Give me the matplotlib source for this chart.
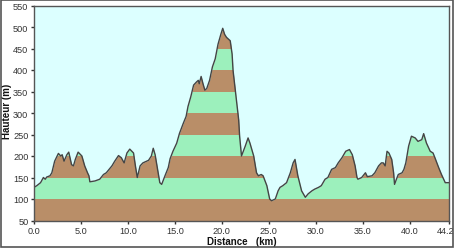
import matplotlib
matplotlib.use("Agg")
import matplotlib.pyplot as plt
from matplotlib.patches import Rectangle
from matplotlib.transforms import ScaledTranslation

distance_km = [0.0, 0.3, 0.7, 1.0, 1.2, 1.35, 1.7, 1.9, 2.2, 2.6, 2.85, 3.0, 3.2, 3.5, 3.7,
               4.0, 4.2, 4.4, 4.7, 5.1, 5.4, 5.7, 5.85, 5.95, 6.5, 7.0, 7.4, 7.7, 8.3, 8.6,
               9.0, 9.3, 9.6, 9.9, 10.2, 10.6, 10.8, 11.0, 11.3, 11.6, 12.2, 12.5, 12.7, 12.9,
               13.1, 13.4, 13.6, 13.95, 14.3, 14.5, 14.8, 15.2, 15.5, 15.9, 16.2, 16.4, 16.7,
               17.0, 17.3, 17.5, 17.6, 17.8, 18.0, 18.2, 18.4, 18.7, 19.0, 19.3, 19.6, 19.9,
               20.1, 20.3, 20.5, 20.9, 21.1, 21.2, 21.4, 21.6, 21.8, 21.9, 22.1, 22.5, 22.8,
               23.0, 23.4, 23.7, 23.9, 24.2, 24.4, 24.8, 25.1, 25.3, 25.7, 26.0, 26.2, 26.5,
               26.9, 27.3, 27.6, 27.8, 28.1, 28.5, 28.9, 29.2, 29.6, 29.9, 30.3, 30.6, 31.0,
               31.3, 31.7, 32.1, 32.4, 32.8, 33.2, 33.6, 33.9, 34.2, 34.4, 34.5, 34.9, 35.3,
               35.5, 36.0, 36.3, 36.7, 37.0, 37.2, 37.4, 37.6, 37.8, 38.1, 38.3, 38.4, 38.6,
               38.8, 39.2, 39.4, 39.6, 39.9, 40.2, 40.6, 40.9, 41.3, 41.5, 41.8, 42.2, 42.5,
               42.7, 43.1, 43.4, 43.8, 44.2]
altitude_m = [127, 131, 138, 150, 146, 151, 154, 161, 188, 206, 200, 203, 188, 203, 209,
              180, 177, 192, 209, 200, 177, 161, 154, 140, 142, 146, 157, 161, 177, 188,
              201, 196, 184, 207, 216, 207, 177, 150, 177, 184, 190, 200, 218, 203,
              177, 138, 134, 154, 173, 194, 211, 230, 253, 276, 292, 315, 338,
              365, 372, 376, 368, 385, 368, 353, 357, 376, 407, 426, 460, 483,
              497, 483, 476, 468, 437, 399, 361, 322, 284, 246, 200, 223, 242,
              230, 200, 161, 154, 157, 154, 131, 100, 96, 100, 119, 127, 131,
              138, 161, 184, 192, 154, 119, 104, 112, 119, 123, 127, 131, 146,
              150, 169, 173, 184, 196, 211, 215, 203, 177, 150, 146, 150, 161,
              152, 154, 161, 177, 184, 184, 177, 211, 207, 192, 161, 134, 146,
              157, 161, 169, 184, 223, 246, 242, 234, 238, 252, 230, 211, 207,
              196, 173, 157, 138, 138]

x_ticks = [0, 5, 10, 15, 20, 25, 30, 35, 40, 44.2]
x_tick_labels = ["0.0", "5.0", "10.0", "15.0", "20.0", "25.0", "30.0", "35.0", "40.0", "44.2"]
y_ticks = [50, 100, 150, 200, 250, 300, 350, 400, 450, 500, 550]
band_edges = [50, 100, 150, 200, 250, 300, 350, 400, 450, 500, 550]

BG = "#dcffff"
BROWN = "#b98e68"
GREEN = "#9cf0bc"
LINE = "#444444"

plt.rcParams["font.family"] = ["Liberation Sans", "DejaVu Sans"]

fig = plt.figure(figsize=(4.54, 2.51), dpi=100)
fig.patch.set_facecolor("white")
ax = fig.add_axes([34 / 454, 1 - 221.5 / 251, 415 / 454, 215 / 251])
ax.set_facecolor(BG)

ax.set_xlim(0, 44.2)
ax.set_ylim(50, 550)

# alternating altitude bands
for i in range(len(band_edges) - 1):
    ax.axhspan(band_edges[i], band_edges[i + 1], color=BROWN if i % 2 == 0 else GREEN,
               lw=0, zorder=1)
# cover above the profile with background
ax.fill_between(distance_km, altitude_m, 560, color=BG, lw=0, zorder=2)
ax.plot(distance_km, altitude_m, color=LINE, lw=1.0, zorder=3)

ax.set_xticks(x_ticks)
ax.set_xticklabels(x_tick_labels)
ax.set_yticks(y_ticks)
ax.tick_params(axis="both", labelsize=6.6, colors="#333333", length=2.5, width=1,
               pad=1.5, direction="out")
last = ax.get_xticklabels()[-1]
last.set_transform(last.get_transform() + ScaledTranslation(-3 / 100, 0, fig.dpi_scale_trans))

for sp in ax.spines.values():
    sp.set_color("#555555")
    sp.set_linewidth(1.0)
    sp.set_zorder(4)

ax.set_xlabel("Distance   (km)", fontsize=7, fontweight="bold", color="#111111",
              labelpad=1)
ax.set_ylabel("Hauteur (m)", fontsize=7, fontweight="bold", color="#111111")
ax.yaxis.set_label_coords(-21.5 / 415, 0.51)

fig.patches.append(Rectangle((0.6 / 454, 3.2 / 251), 452.2 / 454, 247.3 / 251,
                             transform=fig.transFigure, fill=False,
                             edgecolor="#555555", lw=1.2))

fig.savefig("out.png", dpi=100)
